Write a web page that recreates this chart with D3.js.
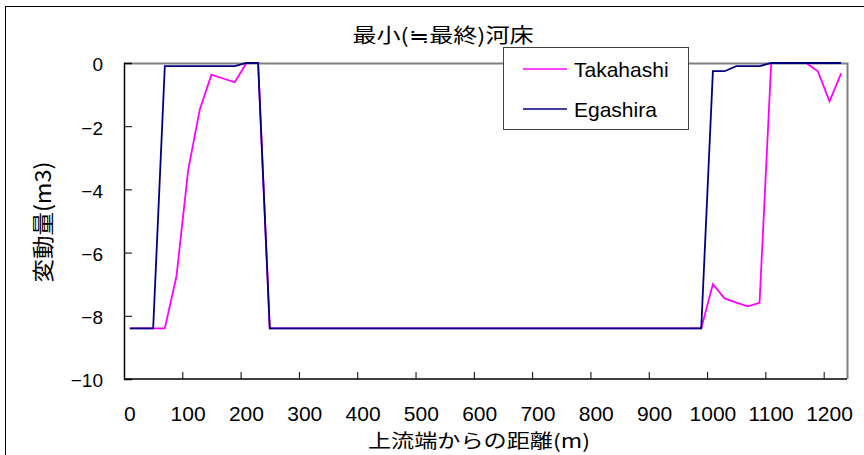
<!DOCTYPE html>
<html>
<head>
<meta charset="utf-8">
<script src="https://cdn.jsdelivr.net/npm/d3@7"></script>
<style>
  body { margin: 0; background: #fff; }
  text { font-family: "Liberation Sans", "Noto Sans CJK JP", sans-serif; fill: #000; }
  .jp { font-family: "Noto Sans CJK JP", sans-serif; }
</style>
</head>
<body>
<div id="chart"></div>
<script>
// distance from upstream end (m), one category every 20 m
const distances = [0,20,40,60,80,100,120,140,160,180,200,220,240,260,280,300,320,340,360,380,
  400,420,440,460,480,500,520,540,560,580,600,620,640,660,680,700,720,740,760,780,
  800,820,840,860,880,900,920,940,960,980,1000,1020,1040,1060,1080,1100,1120,1140,1160,1180,
  1200,1220];

const takahashi = [-8.4,-8.4,-8.4,-8.4,-6.75,-3.4,-1.47,-0.37,-0.49,-0.61,0,0,-8.4,-8.4,-8.4,-8.4,-8.4,-8.4,-8.4,-8.4,
  -8.4,-8.4,-8.4,-8.4,-8.4,-8.4,-8.4,-8.4,-8.4,-8.4,-8.4,-8.4,-8.4,-8.4,-8.4,-8.4,-8.4,-8.4,-8.4,-8.4,
  -8.4,-8.4,-8.4,-8.4,-8.4,-8.4,-8.4,-8.4,-8.4,-8.4,-7.0,-7.45,-7.58,-7.7,-7.59,0,0,0,0,-0.26,
  -1.21,-0.33];

const egashira = [-8.4,-8.4,-8.4,-0.1,-0.1,-0.1,-0.1,-0.1,-0.1,-0.1,0,0,-8.4,-8.4,-8.4,-8.4,-8.4,-8.4,-8.4,-8.4,
  -8.4,-8.4,-8.4,-8.4,-8.4,-8.4,-8.4,-8.4,-8.4,-8.4,-8.4,-8.4,-8.4,-8.4,-8.4,-8.4,-8.4,-8.4,-8.4,-8.4,
  -8.4,-8.4,-8.4,-8.4,-8.4,-8.4,-8.4,-8.4,-8.4,-8.4,-0.26,-0.26,-0.1,-0.1,-0.1,0,0,0,0,0,
  0,0];

const xTickLabels = [0,100,200,300,400,500,600,700,800,900,1000,1100,1200];
const yTicks = [0,-2,-4,-6,-8,-10];

const series = [
  {name: "Takahashi", values: takahashi, color: "#ff00ff"},
  {name: "Egashira", values: egashira, color: "#000080"}
];

const W = 864, H = 455;
const plot = {left: 124, right: 847, top: 63, bottom: 379};

const svg = d3.select("#chart").append("svg")
  .attr("width", W).attr("height", H);

// outer chart frame
svg.append("rect")
  .attr("x", 5.5).attr("y", 6.5)
  .attr("width", W + 10).attr("height", H + 10)
  .attr("fill", "#fff").attr("stroke", "#000").attr("stroke-width", 1);

const x = d3.scaleBand()
  .domain(distances)
  .range([plot.left, plot.right])
  .padding(0);

const y = d3.scaleLinear()
  .domain([-10, 0])
  .range([plot.bottom, plot.top]);

const cx = d => x(d) + x.bandwidth() / 2;

// plot area frame (top and right in gray)
svg.append("path")
  .attr("d", `M${plot.left},${plot.top + 0.5}H${plot.right + 0.5}V${plot.bottom}`)
  .attr("fill", "none").attr("stroke", "#808080").attr("stroke-width", 2);

// lines
const line = d3.line()
  .x((v, i) => cx(distances[i]))
  .y(v => y(v));

series.forEach(s => {
  svg.append("path")
    .datum(s.values)
    .attr("d", line)
    .attr("fill", "none")
    .attr("stroke", s.color)
    .attr("stroke-width", 1.8)
    .attr("stroke-linejoin", "miter");
});

// y axis
const yAxis = svg.append("g")
  .attr("transform", `translate(${plot.left},0)`)
  .call(d3.axisLeft(y).tickValues(yTicks).tickSize(-8).tickPadding(21)
    .tickFormat(d => d === 0 ? "0" : "\u2212" + Math.abs(d)));
yAxis.select(".domain").attr("stroke", "#000").attr("stroke-width", 1.5);
yAxis.selectAll(".tick line").attr("stroke", "#000");
yAxis.selectAll("text").attr("font-size", 19).attr("dy", "0.42em");

// x axis: ticks at every 5th category boundary, labels at category centres
const xAxis = svg.append("g")
  .attr("transform", `translate(0,${plot.bottom})`);
xAxis.append("line")
  .attr("x1", plot.left).attr("x2", plot.right)
  .attr("stroke", "#000").attr("stroke-width", 1.5);
xAxis.selectAll(".tk")
  .data(distances.filter((d, i) => i > 0 && i % 5 === 0))
  .enter().append("line")
  .attr("x1", d => x(d) + 0.5).attr("x2", d => x(d) + 0.5)
  .attr("y1", 0).attr("y2", -7)
  .attr("stroke", "#000");
xAxis.selectAll(".lb")
  .data(xTickLabels)
  .enter().append("text")
  .attr("x", d => cx(d))
  .attr("y", 42)
  .attr("text-anchor", "middle")
  .attr("font-size", 21)
  .text(d => d);

// titles
svg.append("text").attr("class", "jp")
  .attr("x", 443).attr("y", 43)
  .attr("text-anchor", "middle").attr("font-size", 20)
  .attr("textLength", 181).attr("lengthAdjust", "spacingAndGlyphs")
  .text("最小(≒最終)河床");

svg.append("text").attr("class", "jp")
  .attr("x", 479).attr("y", 448)
  .attr("text-anchor", "middle").attr("font-size", 19)
  .attr("textLength", 222).attr("lengthAdjust", "spacingAndGlyphs")
  .text("上流端からの距離(m)");

svg.append("text").attr("class", "jp")
  .attr("transform", "translate(51,222) rotate(-90)")
  .attr("text-anchor", "middle").attr("font-size", 22)
  .attr("textLength", 121).attr("lengthAdjust", "spacingAndGlyphs")
  .text("変動量(m3)");

// legend
const lg = svg.append("g");
lg.append("rect")
  .attr("x", 503.5).attr("y", 47.5).attr("width", 185).attr("height", 82)
  .attr("fill", "#fff").attr("stroke", "#404040").attr("stroke-width", 1);
series.forEach((s, i) => {
  const ly = 69 + i * 40;
  lg.append("line")
    .attr("x1", 523).attr("x2", 567).attr("y1", ly).attr("y2", ly)
    .attr("stroke", s.color).attr("stroke-width", 1.5);
  lg.append("text")
    .attr("x", 574).attr("y", ly).attr("dy", "0.36em")
    .attr("font-size", 21)
    .text(s.name);
});
</script>
</body>
</html>
